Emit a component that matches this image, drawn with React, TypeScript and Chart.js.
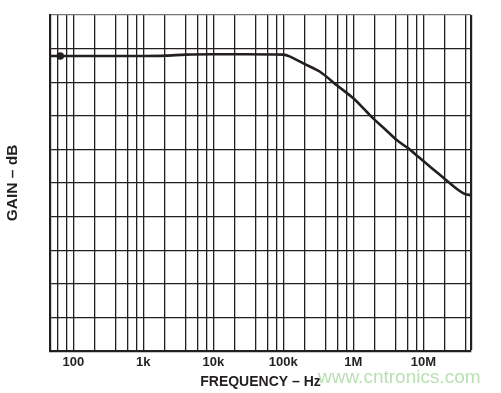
import React, { useEffect, useRef } from "react";
import { Chart, registerables } from "chart.js";

Chart.register(...registerables);

// Frequency (Hz) and gain (dB, relative grid units)
const freqs = [46.4, 65, 1000, 2090, 4000, 10000, 100000, 125000, 193000, 334000, 579000, 1000000, 1550000, 2040000, 2840000, 4170000, 6100000, 8500000, 11800000, 16400000, 22800000, 31600000, 39400000, 48000000];
const gains = [-1.22, -1.22, -1.22, -1.21, -1.18, -1.17, -1.18, -1.24, -1.44, -1.69, -2.09, -2.48, -2.88, -3.13, -3.40, -3.72, -3.97, -4.22, -4.47, -4.72, -4.97, -5.21, -5.33, -5.36];
const markerIndex = 1;

const X_MIN = 46.4;
const X_MAX = 48e6;
const Y_MIN = -10;
const Y_MAX = 0;

const gridMultipliers = [1, 2, 4, 6, 8];
const decadeLabels: Record<number, string> = {
  100: "100",
  1000: "1k",
  10000: "10k",
  100000: "100k",
  1000000: "1M",
  10000000: "10M",
};

const INK = "#231f20";

export default function App() {
  const ref = useRef<HTMLCanvasElement | null>(null);

  useEffect(() => {
    if (!ref.current) return;
    const tickValues: number[] = [];
    for (let d = 10; d <= 1e8; d *= 10) {
      for (const m of gridMultipliers) {
        const v = m * d;
        if (v > X_MIN && v < X_MAX) tickValues.push(v);
      }
    }
    tickValues.push(X_MAX);

    const chart = new Chart(ref.current, {
      type: "line",
      data: {
        datasets: [
          {
            data: freqs.map((f, i) => ({ x: f, y: gains[i] })),
            borderColor: INK,
            backgroundColor: INK,
            borderWidth: 2.6,
            tension: 0.3,
            pointRadius: freqs.map((_, i) => (i === markerIndex ? 3.8 : 0)),
            pointBackgroundColor: INK,
            pointBorderWidth: 0,
          },
        ],
      },
      options: {
        animation: false,
        responsive: false,
        layout: { padding: { top: 15, right: 30, left: 0, bottom: 0 } },
        plugins: { legend: { display: false }, tooltip: { enabled: false } },
        scales: {
          x: {
            type: "logarithmic",
            min: X_MIN,
            max: X_MAX,
            afterBuildTicks: (scale: any) => {
              scale.ticks = tickValues.map((v) => ({ value: v }));
            },
            ticks: {
              autoSkip: false,
              maxRotation: 0,
              padding: 3.5,
              color: INK,
              font: { family: "Liberation Sans", size: 13, weight: "bold" },
              callback: (v: any) => decadeLabels[Math.round(Number(v))] ?? "",
            },
            grid: {
              color: INK,
              lineWidth: (ctx: any) => (ctx.tick && ctx.tick.value === X_MAX ? 2.2 : 1.3),
              drawTicks: false,
            },
            border: { color: INK, width: 2.2 },
            title: {
              display: true,
              text: "FREQUENCY – Hz",
              color: INK,
              font: { family: "Liberation Sans", size: 14, weight: "bold" },
              padding: { top: 0, bottom: 2.6 },
            },
          },
          y: {
            type: "linear",
            min: Y_MIN,
            max: Y_MAX,
            ticks: { display: false, stepSize: 1 },
            grid: {
              color: (ctx: any) => (ctx.tick && ctx.tick.value === Y_MAX ? "#7a7373" : INK),
              lineWidth: 1.3,
              drawTicks: false,
            },
            border: { color: INK, width: 2.2 },
            title: {
              display: true,
              text: "GAIN – dB",
              color: INK,
              font: { family: "Liberation Sans", size: 15.5, weight: "bold" },
              padding: { top: 3.5, bottom: 27.9 },
            },
          },
        },
      },
    });
    return () => chart.destroy();
  }, []);

  return (
    <div style={{ position: "absolute", left: 0, top: 0, width: 501, height: 393, background: "#fff" }}>
      <canvas ref={ref} width={501} height={393} style={{ position: "absolute", left: 0, top: 0 }} />
      <div
        style={{
          position: "absolute",
          left: 318,
          top: 365,
          fontFamily: "Liberation Sans",
          fontSize: 19,
          color: "#b9dfb3",
          whiteSpace: "nowrap",
          lineHeight: "24px",
        }}
      >
        www.cntronics.com
      </div>
    </div>
  );
}
